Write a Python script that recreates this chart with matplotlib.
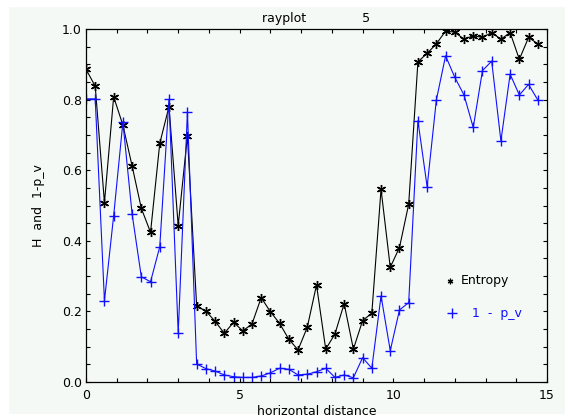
import matplotlib
matplotlib.use('Agg')
import matplotlib.pyplot as plt
from matplotlib.patches import Rectangle
from matplotlib.ticker import MultipleLocator

# horizontal distance of each sample along the ray
distance = [0.0, 0.3, 0.6, 0.9, 1.2, 1.5, 1.8, 2.1, 2.4, 2.7,
            3.0, 3.3, 3.6, 3.9, 4.2, 4.5, 4.8, 5.1, 5.4, 5.7,
            6.0, 6.3, 6.6, 6.9, 7.2, 7.5, 7.8, 8.1, 8.4, 8.7,
            9.0, 9.3, 9.6, 9.9, 10.2, 10.5, 10.8, 11.1, 11.4, 11.7,
            12.0, 12.3, 12.6, 12.9, 13.2, 13.5, 13.8, 14.1, 14.4, 14.7]

# entropy H
entropy = [0.886, 0.838, 0.508, 0.808, 0.728, 0.612, 0.492, 0.424, 0.676, 0.780,
           0.443, 0.697, 0.215, 0.201, 0.172, 0.138, 0.169, 0.145, 0.164, 0.239,
           0.199, 0.166, 0.121, 0.091, 0.155, 0.275, 0.093, 0.136, 0.222, 0.093,
           0.174, 0.195, 0.546, 0.325, 0.381, 0.504, 0.907, 0.931, 0.958, 0.994,
           0.991, 0.971, 0.981, 0.976, 0.990, 0.971, 0.990, 0.914, 0.976, 0.958]

# 1 - p_v
one_minus_pv = [0.802, 0.802, 0.230, 0.471, 0.736, 0.476, 0.298, 0.284, 0.383, 0.801,
                0.138, 0.766, 0.051, 0.038, 0.031, 0.020, 0.015, 0.013, 0.013, 0.017,
                0.026, 0.039, 0.036, 0.020, 0.022, 0.029, 0.039, 0.013, 0.020, 0.012,
                0.069, 0.039, 0.244, 0.089, 0.204, 0.225, 0.740, 0.553, 0.799, 0.924,
                0.863, 0.813, 0.721, 0.882, 0.909, 0.683, 0.872, 0.813, 0.843, 0.799]

bg = '#f4f9f6'
blue = '#1010ff'

plt.rcParams['font.family'] = ['DejaVu Sans']
plt.rcParams['font.size'] = 9

fig = plt.figure(figsize=(5.65, 4.18), dpi=100, facecolor='white')
# tinted drawing area, leaving a thin white strip on the left/top/bottom
fig.patches.append(Rectangle((9 / 565, 4 / 418), 1 - 9 / 565, 1 - 11 / 418,
                             transform=fig.transFigure, facecolor=bg,
                             edgecolor='none', zorder=-10))

ax = fig.add_axes([86 / 565, 36 / 418, 461 / 565, 353 / 418])
ax.set_facecolor(bg)

ax.plot(distance, entropy, color='black', lw=0.8,
        marker=(6, 2, 0), ms=6.5, mew=1.0, mec='black')
ax.plot(distance, one_minus_pv, color=blue, lw=0.8,
        marker='+', ms=6.5, mew=1.0, mec=blue)

ax.set_xlim(0, 15)
ax.set_ylim(0, 1)
ax.xaxis.set_major_locator(MultipleLocator(5))
ax.xaxis.set_minor_locator(MultipleLocator(1))
ax.yaxis.set_major_locator(MultipleLocator(0.2))
ax.yaxis.set_minor_locator(MultipleLocator(0.05))
ax.xaxis.set_major_formatter(plt.FuncFormatter(lambda v, p: '%d' % round(v)))
ax.yaxis.set_major_formatter(plt.FuncFormatter(lambda v, p: '%.1f' % v))
ax.tick_params(which='both', direction='in', top=True, right=True,
               length=3.2, width=0.8, color='black')
ax.tick_params(axis='x', which='major', pad=5)
ax.tick_params(axis='y', which='major', pad=3)
for s in ax.spines.values():
    s.set_linewidth(0.9)

ax.set_title('rayplot' + ' ' * 14 + '5', fontsize=9, pad=5)
ax.set_xlabel('horizontal distance', labelpad=2)
ax.set_ylabel('H  and  1-p_v', labelpad=12)

# legend drawn by hand inside the plot
ax.plot([0.79], [0.287], transform=ax.transAxes, color='black',
        marker=(6, 2, 0), ms=4, mew=0.9, ls='none', clip_on=False)
ax.text(0.813, 0.287, 'Entropy', transform=ax.transAxes, va='center', ha='left')
ax.plot([0.794], [0.195], transform=ax.transAxes, color=blue,
        marker='+', ms=6.5, mew=1.0, ls='none', clip_on=False)
ax.text(0.837, 0.195, '1  -  p_v', transform=ax.transAxes, va='center',
        ha='left', color=blue)

fig.savefig('out.png', dpi=100, facecolor='white')
